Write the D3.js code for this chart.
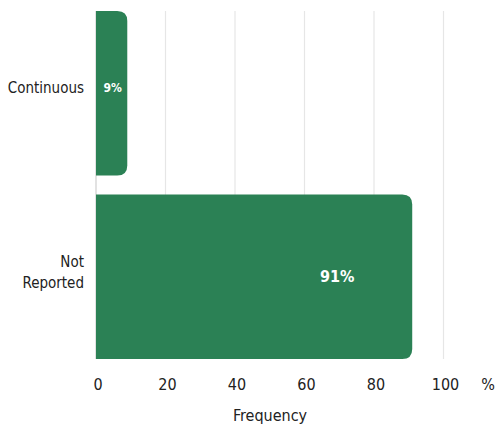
<!DOCTYPE html>
<meta charset="utf-8">
<style>
  body { margin: 0; background: #fff; }
  text { font-family: "DejaVu Sans Condensed", "DejaVu Sans", sans-serif; font-stretch: condensed; }
</style>
<svg width="496" height="428"></svg>
<script src="https://d3js.org/d3.v7.min.js"></script>
<script>

var categories = ["Continuous", "Not Reported"];
var labelLines = [["Continuous"], ["Not", "Reported"]];
var values = [9, 91];
var valueLabels = ["9%", "91%"];
var ticks = [0, 20, 40, 60, 80, 100];

var svg = d3.select("svg"),
    plotLeft = 96, plotRight = 443.5, plotTop = 11, plotBottom = 359,
    green = "#2b8155";

var x = d3.scaleLinear().domain([0, 100]).range([plotLeft, plotRight]);
var y = d3.scaleBand().domain(categories).range([plotTop, plotBottom]).paddingInner(0.104).paddingOuter(0);

// grid
svg.append("g").selectAll("line")
  .data(ticks)
  .enter().append("line")
    .attr("x1", d => x(d)).attr("x2", d => x(d))
    .attr("y1", plotTop).attr("y2", plotBottom)
    .attr("stroke", d => d === 0 ? "#cfcfcf" : "#e6e6e6")
    .attr("stroke-width", 1.2);

// bars, rounded on the right end only
var r = 10;
function barPath(d, i) {
  var x0 = x(0), x1 = x(d), y0 = y(categories[i]), h = y.bandwidth();
  return "M" + x0 + "," + y0 +
    "H" + (x1 - r) +
    "Q" + x1 + "," + y0 + " " + x1 + "," + (y0 + r) +
    "V" + (y0 + h - r) +
    "Q" + x1 + "," + (y0 + h) + " " + (x1 - r) + "," + (y0 + h) +
    "H" + x0 + "Z";
}
svg.append("g").selectAll("path")
  .data(values)
  .enter().append("path")
    .attr("d", barPath)
    .attr("fill", green);

// value labels
svg.append("g").selectAll("text")
  .data(values)
  .enter().append("text")
    .attr("x", d => d < 20 ? (x(0) + x(d)) / 2 + 1 : x(d) - 75)
    .attr("y", (d, i) => y(categories[i]) + y.bandwidth() / 2 + (d < 20 ? -5 : 0))
    .attr("dy", "0.35em")
    .attr("text-anchor", "middle")
    .attr("fill", "#fff")
    .attr("font-weight", "bold")
    .attr("font-size", d => d < 20 ? 12 : 16)
    .text((d, i) => valueLabels[i]);

// category labels
var cat = svg.append("g").selectAll("text")
  .data(labelLines)
  .enter().append("text")
    .attr("text-anchor", "end")
    .attr("font-size", 15)
    .attr("fill", "#222")
    .attr("transform", (d, i) => "translate(84," + (y(categories[i]) + y.bandwidth() / 2 - 5) + ")");

cat.selectAll("tspan")
  .data(d => d.map((t, j) => ({t: t, j: j, n: d.length})))
  .enter().append("tspan")
    .attr("x", 0)
    .attr("y", d => (d.j - (d.n - 1) / 2) * 21)
    .attr("dy", "0.35em")
    .text(d => d.t);

// x tick labels
svg.append("g").selectAll("text")
  .data(ticks)
  .enter().append("text")
    .attr("x", d => x(d) + 2)
    .attr("y", 384)
    .attr("dy", "0.35em")
    .attr("text-anchor", "middle")
    .attr("font-size", 16)
    .attr("fill", "#222")
    .text(d => d);

svg.append("text")
  .attr("x", 488).attr("y", 384).attr("dy", "0.35em")
  .attr("text-anchor", "middle")
  .attr("font-size", 16).attr("fill", "#222")
  .text("%");

svg.append("text")
  .attr("x", 270).attr("y", 415).attr("dy", "0.35em")
  .attr("text-anchor", "middle")
  .attr("font-size", 16).attr("fill", "#222")
  .text("Frequency");

</script>
